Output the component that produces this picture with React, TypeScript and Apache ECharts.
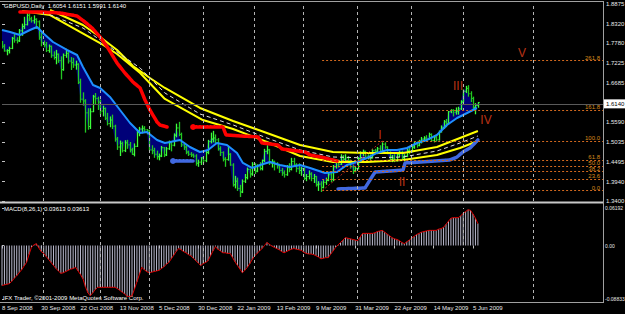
import React, { useEffect, useRef } from 'react';
import * as echarts from 'echarts';

const FONT = 'Liberation Sans, Arial, sans-serif';

// x = trading-day index from 8 Sep 2008 (weekdays, 25 Dec / 1 Jan skipped)
const dateLabels = ['8 Sep 2008', '30 Sep 2008', '22 Oct 2008', '13 Nov 2008', '5 Dec 2008', '30 Dec 2008', '22 Jan 2009', '13 Feb 2009', '9 Mar 2009', '31 Mar 2009', '22 Apr 2009', '14 May 2009', '5 Jun 2009'];
const dateTickIdx = [0, 16, 32, 48, 64, 80, 96, 112, 128, 144, 160, 176, 192];
const monthGridIdx = [17, 40, 60, 82, 103, 123, 145, 167, 188, 216.5];
const priceTicks = [1.34, 1.394, 1.4495, 1.5035, 1.559, 1.6685, 1.7225, 1.778, 1.832, 1.8875];
const macdTicks = [-0.08833, 0, 0.06192];

const opens = [
  1.7780, 1.7700, 1.7570, 1.7580, 1.7640, 1.7920, 1.7870, 1.7850, 1.8130, 1.8250,
  1.8300, 1.8560, 1.8460, 1.8410, 1.8450, 1.8380, 1.7950, 1.7800, 1.7740, 1.7580,
  1.7700, 1.7450, 1.7390, 1.7480, 1.7300, 1.7050, 1.7450, 1.7500, 1.7290, 1.7250,
  1.7180, 1.7200, 1.6700, 1.6230, 1.6180, 1.5850, 1.5470, 1.5880, 1.6300, 1.6250,
  1.6150, 1.5900, 1.5970, 1.5700, 1.5550, 1.5650, 1.5480, 1.5120, 1.4900, 1.5000,
  1.4800, 1.5020, 1.4960, 1.4820, 1.4700, 1.4920, 1.5300, 1.5400, 1.5420, 1.5380,
  1.5350, 1.4820, 1.4800, 1.4700, 1.4630, 1.4650, 1.4880, 1.4680, 1.4850, 1.5020,
  1.4950, 1.5230, 1.5430, 1.5250, 1.4960, 1.4900, 1.4760, 1.4700, 1.4680, 1.4650,
  1.4450, 1.4480, 1.4600, 1.4520, 1.4750, 1.5050, 1.5120, 1.5150, 1.5100, 1.4850,
  1.4750, 1.4560, 1.4550, 1.4700, 1.4400, 1.3850, 1.3950, 1.3750, 1.3650, 1.3950,
  1.4050, 1.4280, 1.4150, 1.4420, 1.4230, 1.4370, 1.4300, 1.4530, 1.4780, 1.4820,
  1.4450, 1.4500, 1.4420, 1.4380, 1.4250, 1.4180, 1.4130, 1.4350, 1.4280, 1.4500,
  1.4400, 1.4300, 1.4250, 1.4300, 1.4030, 1.4080, 1.4150, 1.4030, 1.4080, 1.3850,
  1.3870, 1.3780, 1.3920, 1.3970, 1.4130, 1.4000, 1.4350, 1.4500, 1.4420, 1.4620,
  1.4560, 1.4600, 1.4520, 1.4350, 1.4250, 1.4300, 1.4580, 1.4720, 1.4780, 1.4650,
  1.4620, 1.4600, 1.4800, 1.4780, 1.4850, 1.4760, 1.4980, 1.4900, 1.4750, 1.4550,
  1.4600, 1.4520, 1.4700, 1.4760, 1.4600, 1.4650, 1.4800, 1.4780, 1.4900, 1.4990,
  1.4950, 1.5060, 1.5120, 1.5150, 1.5130, 1.5250, 1.5080, 1.5180, 1.5100, 1.5330,
  1.5450, 1.5600, 1.5550, 1.5880, 1.5920, 1.5870, 1.5900, 1.5960, 1.6150, 1.6450,
  1.6530, 1.6380, 1.6250, 1.6000, 1.6054,
];
const highs = [
  1.7850, 1.7760, 1.7620, 1.7690, 1.7960, 1.8050, 1.7950, 1.8180, 1.8330, 1.8520,
  1.8650, 1.8660, 1.8520, 1.8560, 1.8480, 1.8420, 1.8080, 1.7860, 1.7820, 1.7750,
  1.7720, 1.7560, 1.7600, 1.7500, 1.7420, 1.7500, 1.7630, 1.7540, 1.7400, 1.7380,
  1.7300, 1.7230, 1.6800, 1.6420, 1.6230, 1.5980, 1.5980, 1.6350, 1.6400, 1.6300,
  1.6220, 1.6050, 1.6000, 1.5850, 1.5750, 1.5800, 1.5520, 1.5180, 1.5080, 1.5050,
  1.5090, 1.5100, 1.5040, 1.4880, 1.5000, 1.5350, 1.5460, 1.5500, 1.5480, 1.5400,
  1.5380, 1.4950, 1.4880, 1.4800, 1.4720, 1.4930, 1.4900, 1.4900, 1.5080, 1.5050,
  1.5280, 1.5550, 1.5600, 1.5300, 1.5020, 1.4950, 1.4800, 1.4760, 1.4720, 1.4700,
  1.4550, 1.4620, 1.4650, 1.4800, 1.5100, 1.5300, 1.5350, 1.5250, 1.5150, 1.4920,
  1.4780, 1.4620, 1.4900, 1.4730, 1.4450, 1.4100, 1.4050, 1.3850, 1.4000, 1.4150,
  1.4330, 1.4300, 1.4480, 1.4450, 1.4420, 1.4480, 1.4550, 1.4850, 1.4950, 1.4850,
  1.4560, 1.4520, 1.4480, 1.4400, 1.4320, 1.4250, 1.4400, 1.4450, 1.4600, 1.4600,
  1.4450, 1.4450, 1.4350, 1.4330, 1.4150, 1.4250, 1.4200, 1.4150, 1.4100, 1.3950,
  1.3950, 1.3980, 1.4050, 1.4200, 1.4180, 1.4400, 1.4550, 1.4550, 1.4700, 1.4680,
  1.4700, 1.4650, 1.4550, 1.4400, 1.4350, 1.4620, 1.4780, 1.4830, 1.4800, 1.4700,
  1.4700, 1.4850, 1.4850, 1.4900, 1.4950, 1.5030, 1.5030, 1.4920, 1.4780, 1.4680,
  1.4700, 1.4720, 1.4800, 1.4800, 1.4700, 1.4850, 1.4900, 1.4950, 1.5050, 1.5050,
  1.5100, 1.5180, 1.5200, 1.5230, 1.5300, 1.5280, 1.5220, 1.5240, 1.5360, 1.5500,
  1.5650, 1.5680, 1.5900, 1.5950, 1.5950, 1.6000, 1.6020, 1.6200, 1.6500, 1.6600,
  1.6620, 1.6450, 1.6300, 1.6120, 1.6151,
];
const lows = [
  1.7640, 1.7550, 1.7450, 1.7500, 1.7620, 1.7800, 1.7780, 1.7820, 1.7990, 1.8180,
  1.8280, 1.8400, 1.8360, 1.8330, 1.8180, 1.7880, 1.7700, 1.7670, 1.7540, 1.7520,
  1.7380, 1.7330, 1.7200, 1.7240, 1.6780, 1.7020, 1.7380, 1.7220, 1.7040, 1.7100,
  1.7050, 1.6650, 1.6130, 1.6050, 1.5300, 1.5380, 1.5400, 1.5870, 1.6080, 1.5930,
  1.5800, 1.5750, 1.5650, 1.5500, 1.5450, 1.5400, 1.5050, 1.4820, 1.4650, 1.4750,
  1.4760, 1.4850, 1.4750, 1.4680, 1.4640, 1.4900, 1.5200, 1.5280, 1.5300, 1.5250,
  1.4800, 1.4700, 1.4600, 1.4550, 1.4530, 1.4620, 1.4620, 1.4650, 1.4820, 1.4780,
  1.4920, 1.5170, 1.5200, 1.4900, 1.4820, 1.4700, 1.4650, 1.4620, 1.4600, 1.4380,
  1.4350, 1.4400, 1.4450, 1.4480, 1.4700, 1.5000, 1.5030, 1.5000, 1.4800, 1.4650,
  1.4500, 1.4350, 1.4520, 1.4380, 1.3800, 1.3750, 1.3680, 1.3510, 1.3620, 1.3900,
  1.4000, 1.4050, 1.4100, 1.4150, 1.4200, 1.4250, 1.4250, 1.4480, 1.4700, 1.4400,
  1.4330, 1.4250, 1.4300, 1.4180, 1.4100, 1.4050, 1.4100, 1.4200, 1.4250, 1.4350,
  1.4200, 1.4150, 1.4100, 1.3980, 1.3950, 1.4000, 1.3950, 1.3900, 1.3800, 1.3680,
  1.3650, 1.3750, 1.3850, 1.3950, 1.3920, 1.3950, 1.4300, 1.4330, 1.4400, 1.4500,
  1.4480, 1.4450, 1.4300, 1.4150, 1.4200, 1.4280, 1.4550, 1.4650, 1.4600, 1.4550,
  1.4500, 1.4580, 1.4720, 1.4700, 1.4720, 1.4740, 1.4850, 1.4700, 1.4500, 1.4480,
  1.4480, 1.4500, 1.4620, 1.4550, 1.4500, 1.4620, 1.4700, 1.4750, 1.4850, 1.4880,
  1.4920, 1.5000, 1.5050, 1.5050, 1.5100, 1.5050, 1.5030, 1.5050, 1.5080, 1.5300,
  1.5400, 1.5450, 1.5520, 1.5840, 1.5750, 1.5800, 1.5800, 1.5930, 1.6140, 1.6400,
  1.6300, 1.6150, 1.5950, 1.5810, 1.5991,
];
const closes = [
  1.7700, 1.7570, 1.7580, 1.7640, 1.7920, 1.7870, 1.7850, 1.8130, 1.8250, 1.8300,
  1.8560, 1.8460, 1.8410, 1.8450, 1.8380, 1.7950, 1.7800, 1.7740, 1.7580, 1.7700,
  1.7450, 1.7390, 1.7480, 1.7300, 1.7050, 1.7450, 1.7500, 1.7290, 1.7250, 1.7180,
  1.7200, 1.6700, 1.6230, 1.6180, 1.5850, 1.5470, 1.5880, 1.6300, 1.6250, 1.6150,
  1.5900, 1.5970, 1.5700, 1.5550, 1.5650, 1.5480, 1.5120, 1.4900, 1.5000, 1.4800,
  1.5020, 1.4960, 1.4820, 1.4700, 1.4920, 1.5300, 1.5400, 1.5420, 1.5380, 1.5350,
  1.4820, 1.4800, 1.4700, 1.4630, 1.4650, 1.4880, 1.4680, 1.4850, 1.5020, 1.4950,
  1.5230, 1.5430, 1.5250, 1.4960, 1.4900, 1.4760, 1.4700, 1.4680, 1.4650, 1.4450,
  1.4480, 1.4600, 1.4520, 1.4750, 1.5050, 1.5120, 1.5150, 1.5100, 1.4850, 1.4750,
  1.4560, 1.4550, 1.4700, 1.4400, 1.3850, 1.3950, 1.3750, 1.3650, 1.3950, 1.4050,
  1.4280, 1.4150, 1.4420, 1.4230, 1.4370, 1.4300, 1.4530, 1.4780, 1.4820, 1.4450,
  1.4500, 1.4420, 1.4380, 1.4250, 1.4180, 1.4130, 1.4350, 1.4280, 1.4500, 1.4400,
  1.4300, 1.4250, 1.4300, 1.4030, 1.4080, 1.4150, 1.4030, 1.4080, 1.3850, 1.3870,
  1.3780, 1.3920, 1.3970, 1.4130, 1.4000, 1.4350, 1.4500, 1.4420, 1.4620, 1.4560,
  1.4600, 1.4520, 1.4350, 1.4250, 1.4300, 1.4580, 1.4720, 1.4780, 1.4650, 1.4620,
  1.4600, 1.4800, 1.4780, 1.4850, 1.4760, 1.4980, 1.4900, 1.4750, 1.4550, 1.4600,
  1.4520, 1.4700, 1.4760, 1.4600, 1.4650, 1.4800, 1.4780, 1.4900, 1.4990, 1.4950,
  1.5060, 1.5120, 1.5150, 1.5130, 1.5250, 1.5080, 1.5180, 1.5100, 1.5330, 1.5450,
  1.5600, 1.5550, 1.5880, 1.5920, 1.5870, 1.5900, 1.5960, 1.6150, 1.6450, 1.6530,
  1.6380, 1.6250, 1.6000, 1.6054, 1.6140,
];

// indicator lines: [bar index, price]
const blueMA = [[0, 1.8152], [3.3, 1.8097], [7.3, 1.8013], [11.4, 1.8152], [14.3, 1.8236], [16.7, 1.8069], [20.8, 1.7819], [26.5, 1.7597], [30.6, 1.7458], [33, 1.7124], [37.1, 1.6624], [40, 1.6541], [44, 1.6291], [48.1, 1.5929], [52.2, 1.5568], [56.3, 1.529], [59.1, 1.5318], [63.2, 1.5096], [66.4, 1.5012], [68.5, 1.504], [72.6, 1.5096], [76.6, 1.4901], [80.7, 1.4762], [84, 1.4818], [87.6, 1.5012], [91.7, 1.4957], [95.8, 1.4735], [98.2, 1.4457], [101.9, 1.4318], [105.2, 1.4401], [109.3, 1.4484], [113.3, 1.4401], [117.4, 1.4345], [121.5, 1.4401], [125.6, 1.4318], [131.7, 1.4179], [136.6, 1.4207], [140.6, 1.4401], [144.7, 1.4484], [148.8, 1.4596], [152.9, 1.4735], [157, 1.4818], [161, 1.4818], [165.1, 1.4873], [169.2, 1.5012], [173.3, 1.5096], [177.3, 1.5235], [181.4, 1.5513], [185.5, 1.5707], [189.6, 1.5846], [193.6, 1.5985]];
const bandUpper = [[19.6, 1.8708], [33, 1.8291], [40, 1.7958], [46.9, 1.7597], [53.4, 1.7152], [60.3, 1.6819], [66.4, 1.6541], [80.7, 1.5985], [94.2, 1.5624], [108, 1.529], [121.5, 1.4957], [134.9, 1.4762], [148.8, 1.4735], [163.5, 1.4735], [177.3, 1.4901], [186.7, 1.5151], [194, 1.5346]];
const bandLower = [[8.2, 1.868], [19.6, 1.8569], [31.8, 1.8097], [40, 1.7791], [46.9, 1.7486], [56.3, 1.6958], [66.4, 1.6235], [81.9, 1.5651], [94.2, 1.5402], [108, 1.504], [121.5, 1.4651], [134.9, 1.4484], [148.8, 1.4484], [163.5, 1.454], [177.3, 1.4679], [186.7, 1.4873], [194, 1.5068]];
const bandMid = [[16.7, 1.8653], [33, 1.8208], [40, 1.7875], [46.9, 1.7541], [56.3, 1.7097], [66.4, 1.6402], [80.7, 1.5818], [94.2, 1.5513], [108, 1.5151], [121.5, 1.4818], [134.9, 1.4623], [148.8, 1.4596], [163.5, 1.4623], [177.3, 1.479], [186.7, 1.5012], [194, 1.5207]];
const redTrailA = [[7.3, 1.8653], [15.5, 1.8653], [23.6, 1.8625], [30.6, 1.8542], [33.8, 1.8375], [36.7, 1.8208], [40, 1.7958], [43.2, 1.7652], [46.9, 1.7235], [50.1, 1.6958], [53.4, 1.6707], [56.3, 1.6541], [58.3, 1.6207], [60.3, 1.5929], [63.2, 1.5596], [64.4, 1.5513], [67.3, 1.5457]];
const redTrailB = [[77.9, 1.5457], [90.1, 1.5457], [91.3, 1.5235], [104.4, 1.5179], [106, 1.5012], [112.5, 1.4957], [114.1, 1.4846], [123.5, 1.4762], [125.6, 1.4679], [131.7, 1.4596], [136.6, 1.4512]];
const blueTrailA = [[69.7, 1.4512], [77.9, 1.4512]];
const blueTrailB = [[137, 1.3734], [148, 1.3762], [150, 1.3984], [152.1, 1.4207], [163.5, 1.4262], [164.3, 1.4457], [182.6, 1.454], [185.5, 1.4623], [187.9, 1.4762], [190.8, 1.4873], [194, 1.5096]];

const macdValues = [
  -0.066, -0.065, -0.064, -0.063, -0.059, -0.054, -0.050, -0.045, -0.040, -0.034,
  -0.028, -0.015, -0.003, 0.001, 0.003, -0.004, -0.010, -0.013, -0.018, -0.023,
  -0.028, -0.033, -0.038, -0.042, -0.046, -0.045, -0.043, -0.041, -0.039, -0.038,
  -0.036, -0.042, -0.048, -0.055, -0.068, -0.078, -0.083, -0.078, -0.073, -0.069,
  -0.069, -0.069, -0.069, -0.069, -0.069, -0.069, -0.069, -0.071, -0.074, -0.077,
  -0.080, -0.084, -0.084, -0.083, -0.072, -0.060, -0.048, -0.036, -0.040, -0.043,
  -0.045, -0.044, -0.043, -0.042, -0.041, -0.038, -0.035, -0.031, -0.028, -0.022,
  -0.016, -0.010, -0.005, -0.007, -0.010, -0.012, -0.015, -0.017, -0.021, -0.025,
  -0.029, -0.033, -0.030, -0.028, -0.025, -0.017, -0.009, -0.002, -0.006, -0.009,
  -0.012, -0.012, -0.013, -0.013, -0.020, -0.027, -0.033, -0.039, -0.045, -0.041,
  -0.036, -0.030, -0.023, -0.017, -0.013, -0.009, -0.005, 0.000, 0.005, 0.002,
  -0.001, -0.003, -0.005, -0.007, -0.010, -0.012, -0.010, -0.008, -0.006, -0.005,
  -0.006, -0.007, -0.008, -0.011, -0.013, -0.014, -0.014, -0.015, -0.017, -0.019,
  -0.022, -0.021, -0.020, -0.020, -0.014, -0.009, -0.003, 0.001, 0.005, 0.009,
  0.013, 0.012, 0.011, 0.010, 0.009, 0.008, 0.014, 0.020, 0.020, 0.020,
  0.020, 0.020, 0.021, 0.023, 0.024, 0.025, 0.022, 0.019, 0.016, 0.013,
  0.011, 0.010, 0.008, 0.005, 0.003, 0.006, 0.009, 0.012, 0.015, 0.018,
  0.020, 0.022, 0.023, 0.024, 0.025, 0.025, 0.025, 0.025, 0.027, 0.028,
  0.030, 0.035, 0.040, 0.045, 0.046, 0.046, 0.046, 0.049, 0.053, 0.056,
  0.059, 0.058, 0.052, 0.045, 0.03613,
];

const fibLow = 1.3687;
const fibHigh = 1.5068;
const fibStartIdx = 130.5;
const fibPeakIdx = 155;
const fibLevels = [0, 23.6, 38.2, 50, 61.8, 100, 161.8, 261.8];
const fibTexts = ['0.0', '23.6', '38.2', '50.0', '61.8', '100.0', '161.8', '261.8'];

const waveLabels: [number, number, string][] = [
  [154.1, 1.5235, 'I'],
  [163.1, 1.3929, 'II'],
  [185.9, 1.6596, 'III'],
  [197.3, 1.5651, 'IV'],
  [212, 1.7513, 'V'],
];

const X_MAX = 245;

export default function App() {
  const ref = useRef<HTMLDivElement>(null);
  useEffect(() => {
    if (!ref.current) return;
    const chart = echarts.init(ref.current, null, { renderer: 'svg' });
    const last = closes.length - 1;
    const lastPrice = closes[last];
    const macdLast = macdValues[macdValues.length - 1];
    const ohlc = opens.map((o, i) => [i, o, highs[i], lows[i], closes[i]]);

    const gridMarks = monthGridIdx.map((v) => ({ xAxis: v }));
    const fibMarks = fibLevels.map((lv, k) => {
      const p = fibLow + (lv / 100) * (fibHigh - fibLow);
      return [
        { coord: [fibStartIdx, p], label: { formatter: fibTexts[k] } },
        { coord: [X_MAX, p] },
      ];
    });

    const option: any = {
      animation: false,
      backgroundColor: '#000000',
      grid: [
        { left: 2, right: 22, top: 4, height: 197, containLabel: false, outerBoundsMode: 'none' },
        { left: 2, right: 22, top: 208, height: 91, containLabel: false, outerBoundsMode: 'none' },
      ],
      xAxis: [
        { type: 'value', gridIndex: 0, min: 0, max: X_MAX, show: false },
        {
          type: 'value', gridIndex: 1, min: 0, max: X_MAX, offset: 3,
          axisLine: { show: false },
          splitLine: { show: false },
          axisTick: { show: true, length: 3, customValues: dateTickIdx, lineStyle: { color: '#c0c0c0' } },
          axisLabel: {
            customValues: dateTickIdx,
            formatter: (v: number) => dateLabels[Math.round(v / 16)] ?? '',
            align: 'left', margin: 3, color: '#e8e8e8', fontSize: 6, fontFamily: FONT,
          },
        },
      ],
      yAxis: [
        {
          type: 'value', gridIndex: 0, min: 1.34, max: 1.8875, position: 'right',
          axisLine: { show: false }, splitLine: { show: false },
          axisTick: { show: true, length: 3, customValues: priceTicks, lineStyle: { color: '#c0c0c0' } },
          axisLabel: {
            customValues: priceTicks, formatter: (v: number) => v.toFixed(4),
            margin: 3, color: '#e8e8e8', fontSize: 6, fontFamily: FONT,
          },
        },
        {
          type: 'value', gridIndex: 1, min: -0.08833, max: 0.06192, position: 'right',
          axisLine: { show: false }, splitLine: { show: false },
          axisTick: { show: true, length: 2, customValues: macdTicks, lineStyle: { color: '#c0c0c0' } },
          axisLabel: {
            customValues: macdTicks, formatter: (v: number) => (v === 0 ? '0.00' : v.toFixed(5)),
            margin: 2, color: '#e8e8e8', fontSize: 5, fontFamily: FONT,
          },
        },
      ],
      series: [
        {
          type: 'custom', xAxisIndex: 0, yAxisIndex: 0, clip: true, silent: true,
          data: [[0, closes[0]]],
          renderItem: (params: any, api: any) => {
            const fwd = closes.map((c, i) => api.coord([i, c]));
            const back = blueMA.slice().reverse().map((p) => api.coord(p));
            return { type: 'polygon', shape: { points: fwd.concat(back) }, style: { fill: '#000078' } };
          },
        },
        {
          type: 'line', xAxisIndex: 0, yAxisIndex: 0, silent: true, showSymbol: false,
          data: closes.map((c, i) => [i, c]), lineStyle: { opacity: 0 },
          markLine: {
            silent: true, symbol: ['none', 'none'], animation: false,
            data: [
              ...gridMarks.map((m) => ({ ...m, lineStyle: { color: '#b4b4b4', type: [3, 3], width: 1 }, label: { show: false } })),
              ...fibMarks.map((pair) => [
                { ...pair[0], lineStyle: { color: '#d2691e', type: [2, 2], width: 1 }, label: { ...(pair[0] as any).label, show: true, position: 'insideEndTop', distance: [3, 0], color: '#d88a1c', fontSize: 6, fontFamily: FONT } },
                pair[1],
              ]),
              [
                { coord: [fibStartIdx, fibLow], lineStyle: { color: '#b02020', type: [2, 2], width: 1 }, label: { show: false } },
                { coord: [fibPeakIdx, fibHigh] },
              ],
            ],
          },
        },
        {
          type: 'custom', xAxisIndex: 0, yAxisIndex: 0, clip: true, silent: true,
          data: ohlc,
          encode: { x: 0, y: [1, 2, 3, 4] },
          renderItem: (params: any, api: any) => {
            const i = api.value(0);
            const o = api.coord([i, api.value(1)]);
            const h = api.coord([i, api.value(2)]);
            const l = api.coord([i, api.value(3)]);
            const c = api.coord([i, api.value(4)]);
            const up = api.value(4) >= api.value(1);
            const color = up ? '#3cff3c' : '#22c822';
            const x = Math.round(h[0]) + 0.5;
            return {
              type: 'group',
              children: [
                { type: 'line', shape: { x1: x, y1: h[1], x2: x, y2: l[1] }, style: { stroke: color, lineWidth: 1.3 } },
                { type: 'line', shape: { x1: x - 1.2, y1: o[1], x2: x, y2: o[1] }, style: { stroke: color, lineWidth: 1 } },
                { type: 'line', shape: { x1: x, y1: c[1], x2: x + 1.2, y2: c[1] }, style: { stroke: color, lineWidth: 1 } },
              ],
            };
          },
        },
        {
          type: 'line', xAxisIndex: 0, yAxisIndex: 0, data: bandUpper, showSymbol: false, silent: true,
          lineStyle: { color: '#ffff00', width: 2 },
        },
        {
          type: 'line', xAxisIndex: 0, yAxisIndex: 0, data: bandLower, showSymbol: false, silent: true,
          lineStyle: { color: '#ffff00', width: 2 },
        },
        {
          type: 'line', xAxisIndex: 0, yAxisIndex: 0, data: bandMid, showSymbol: false, silent: true,
          lineStyle: { color: '#dcdcdc', width: 1, type: [4, 3] },
        },
        {
          type: 'line', xAxisIndex: 0, yAxisIndex: 0, data: blueMA, showSymbol: false, silent: true,
          lineStyle: { color: '#1e90ff', width: 2 },
        },
        {
          type: 'line', xAxisIndex: 0, yAxisIndex: 0, data: redTrailA, showSymbol: false, silent: true,
          lineStyle: { color: '#ff0000', width: 3.5, cap: 'round', type: [3, 0.6] },
        },
        {
          type: 'line', xAxisIndex: 0, yAxisIndex: 0, silent: true,
          data: redTrailB.map((p, k) => (k === 0 ? { value: p, symbol: 'circle', symbolSize: 6 } : { value: p, symbol: 'none' })),
          itemStyle: { color: '#ff0000' },
          lineStyle: { color: '#ff0000', width: 3.5, cap: 'round', type: [3, 0.6] },
        },
        {
          type: 'line', xAxisIndex: 0, yAxisIndex: 0, silent: true,
          data: blueTrailA.map((p, k) => (k === 0 ? { value: p, symbol: 'circle', symbolSize: 6 } : { value: p, symbol: 'none' })),
          itemStyle: { color: '#4169e1' },
          lineStyle: { color: '#4169e1', width: 3.5, cap: 'round', type: [3, 0.6] },
        },
        {
          type: 'line', xAxisIndex: 0, yAxisIndex: 0, data: blueTrailB, showSymbol: false, silent: true,
          lineStyle: { color: '#4169e1', width: 3.5, cap: 'round', type: [3, 0.6] },
          markLine: {
            silent: true, symbol: ['none', 'none'], animation: false,
            data: [
              {
                yAxis: lastPrice,
                lineStyle: { color: '#5a5a5a', type: 'solid', width: 1 },
                label: {
                  show: true, position: 'end', distance: 1, formatter: lastPrice.toFixed(4),
                  backgroundColor: '#ffffff', color: '#000000', padding: [2, 2, 1, 2],
                  fontSize: 6, fontFamily: FONT,
                },
              },
            ],
          },
        },
        {
          type: 'scatter', xAxisIndex: 0, yAxisIndex: 0, silent: true, symbolSize: 1,
          itemStyle: { color: 'rgba(0,0,0,0)' },
          data: waveLabels.map((w) => ({ value: [w[0], w[1]], label: { formatter: w[2] } })),
          label: { show: true, position: 'inside', color: '#e8401c', fontSize: 12, fontFamily: FONT },
        },
        {
          type: 'bar', xAxisIndex: 1, yAxisIndex: 1, silent: true, barWidth: 1,
          data: macdValues.map((v, i) => [i, v]),
          itemStyle: { color: '#b8b8cc' },
        },
        {
          type: 'line', xAxisIndex: 1, yAxisIndex: 1, silent: true, showSymbol: false,
          data: macdValues.map((v, i) => [i, v]),
          lineStyle: { color: '#e00000', width: 1 },
          markLine: {
            silent: true, symbol: ['none', 'none'], animation: false,
            data: monthGridIdx.map((v) => ({ xAxis: v, lineStyle: { color: '#b4b4b4', type: [3, 3], width: 1 }, label: { show: false } })),
          },
        },
      ],
      graphic: [
        { type: 'line', silent: true, shape: { x1: 0, y1: 1.5, x2: 603, y2: 1.5 }, style: { stroke: '#a0a0a0', lineWidth: 1 } },
        { type: 'line', silent: true, shape: { x1: 603.5, y1: 1, x2: 603.5, y2: 303 }, style: { stroke: '#a0a0a0', lineWidth: 1 } },
        { type: 'line', silent: true, shape: { x1: 0, y1: 202.5, x2: 603, y2: 202.5 }, style: { stroke: '#c8c8c8', lineWidth: 2 } },
        { type: 'line', silent: true, shape: { x1: 0, y1: 302.5, x2: 603, y2: 302.5 }, style: { stroke: '#a0a0a0', lineWidth: 1 } },
        {
          type: 'text', silent: true, x: 4, y: 3,
          style: {
            text: `GBPUSD,Daily  ${opens[last].toFixed(4)} ${highs[last].toFixed(4)} ${lows[last].toFixed(4)} ${closes[last].toFixed(4)}`,
            fill: '#ffffff', font: `6px ${FONT}`, verticalAlign: 'top',
          },
        },
        {
          type: 'text', silent: true, x: 4, y: 206,
          style: { text: `MACD(8,26,1) ${macdLast.toFixed(5)} ${macdLast.toFixed(5)}`, fill: '#ffffff', font: `6px ${FONT}`, verticalAlign: 'top' },
        },
        {
          type: 'text', silent: true, x: 3, y: 295,
          style: { text: 'IFX Trader, ©2001-2009 MetaQuotes Software Corp.', fill: '#ffffff', font: `6px ${FONT}`, verticalAlign: 'top' },
        },
      ],
    };
    chart.setOption(option);
    return () => chart.dispose();
  }, []);
  return (
    <div
      ref={ref}
      style={{ position: 'fixed', left: 0, top: 0, width: 625, height: 314, background: '#000000' }}
    />
  );
}
